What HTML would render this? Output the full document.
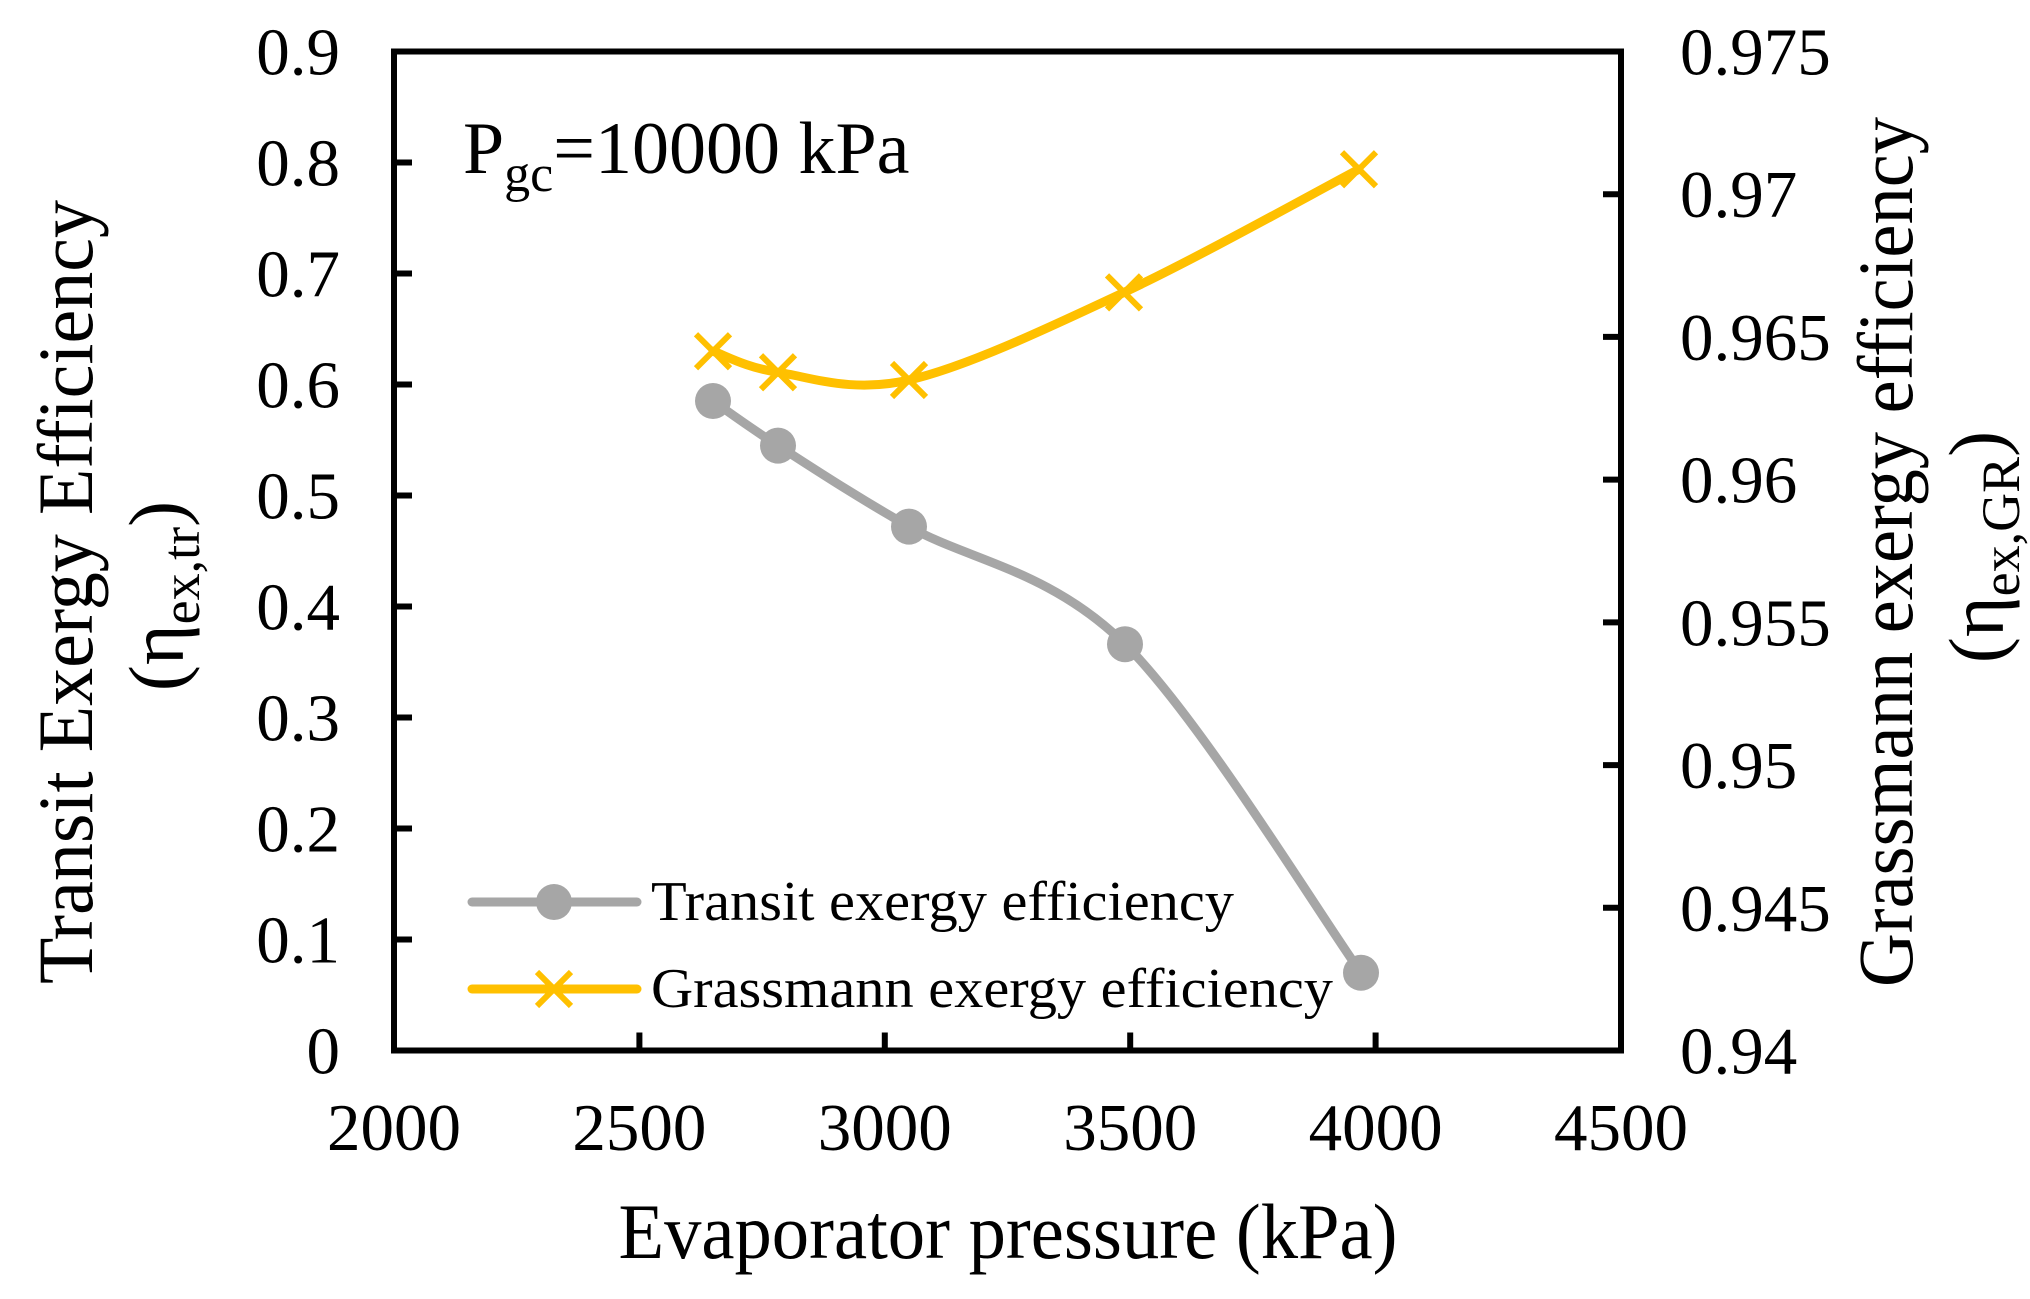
<!DOCTYPE html>
<html><head><meta charset="utf-8"><style>
html,body{margin:0;padding:0;background:#fff;}
svg{display:block;}
text{font-family:"Liberation Serif",serif;fill:#000;}
</style></head><body>
<svg id="s" width="2030" height="1299" viewBox="0 0 2030 1299" xmlns="http://www.w3.org/2000/svg">
<rect width="2030" height="1299" fill="#fff"/>
<g id="ticks" stroke="#000" stroke-width="6"></g>
<rect x="394" y="51.5" width="1227" height="999" fill="none" stroke="#000" stroke-width="6"/>
<g id="labels" font-size="67"></g>
<path id="gray" fill="none" stroke="#a6a6a6" stroke-width="9" stroke-linecap="round"/>
<path id="yel" fill="none" stroke="#ffc000" stroke-width="9" stroke-linecap="round"/>
<g id="marks"></g>
<text x="463" y="173" font-size="74">P<tspan font-size="52" dy="18">gc</tspan><tspan dy="-18">=10000 kPa</tspan></text>
<line x1="472" y1="902" x2="637" y2="902" stroke="#a6a6a6" stroke-width="9" stroke-linecap="round"/>
<circle cx="554" cy="902" r="18" fill="#a6a6a6"/>
<text x="651" y="920" font-size="56" textLength="583" lengthAdjust="spacingAndGlyphs">Transit exergy efficiency</text>
<line x1="472" y1="989" x2="637" y2="989" stroke="#ffc000" stroke-width="9" stroke-linecap="round"/>
<path d="M537 972 L571 1006 M571 972 L537 1006" stroke="#ffc000" stroke-width="6"/>
<text x="651" y="1007" font-size="56" textLength="682" lengthAdjust="spacingAndGlyphs">Grassmann exergy efficiency</text>
<text x="1008" y="1258" font-size="78" text-anchor="middle" textLength="779" lengthAdjust="spacingAndGlyphs">Evaporator pressure (kPa)</text>
<text transform="translate(92,592) rotate(-90)" font-size="78" text-anchor="middle" textLength="784" lengthAdjust="spacingAndGlyphs">Transit  Exergy Efficiency</text>
<text transform="translate(183,596) rotate(-90)" font-size="78" text-anchor="middle">(η<tspan font-size="54" dy="16">ex,tr</tspan><tspan dy="-16">)</tspan></text>
<text transform="translate(1912,552) rotate(-90)" font-size="78" text-anchor="middle" textLength="870" lengthAdjust="spacingAndGlyphs">Grassmann exergy efficiency</text>
<text transform="translate(2003,547) rotate(-90)" font-size="78" text-anchor="middle">(η<tspan font-size="54" dy="16">ex,GR</tspan><tspan dy="-16">)</tspan></text>
</svg>
<script>
var NS="http://www.w3.org/2000/svg";
function el(p,t,a,txt){var e=document.createElementNS(NS,t);for(var k in a)e.setAttribute(k,a[k]);if(txt!=null)e.textContent=txt;p.appendChild(e);return e;}
var T=document.getElementById('ticks'),L=document.getElementById('labels');
var X0=394,X1=1621,Y0=1050.5,Y1=51.5;
for(var i=0;i<=9;i++){var y=Y0-i*111;if(i>0&&i<9)el(T,'line',{x1:X0,y1:y,x2:X0+18,y2:y});
 el(L,'text',{x:340,y:y+23,'text-anchor':'end'},i==0?'0':(i/10).toFixed(1));}
for(var i=0;i<=7;i++){var y=Y0-i*(999/7);if(i>0&&i<7)el(T,'line',{x1:X1-18,y1:y,x2:X1,y2:y});
 var v=(0.94+i*0.005);var s=v.toFixed(3).replace(/0+$/,'');el(L,'text',{x:1680,y:y+23},s);}
for(var i=0;i<=5;i++){var x=X0+i*245.4;if(i>0&&i<5)el(T,'line',{x1:x,y1:Y0,x2:x,y2:Y0-18});
 el(L,'text',{x:x,y:1150,'text-anchor':'middle'},String(2000+i*500));}
var gx=[713,778,909,1125,1361],gy=[401,445.6,526.6,644.2,972.8];
var yx=[713,778,909,1124,1359],yy=[351.2,372.3,380,292.4,169.2];
function cr(xs,ys){var d="M"+xs[0]+" "+ys[0];var n=xs.length;
 for(var i=0;i<n-1;i++){var x0=xs[Math.max(i-1,0)],y0=ys[Math.max(i-1,0)],x1=xs[i],y1=ys[i],x2=xs[i+1],y2=ys[i+1],x3=xs[Math.min(i+2,n-1)],y3=ys[Math.min(i+2,n-1)];
 d+=" C"+(x1+(x2-x0)/6)+" "+(y1+(y2-y0)/6)+" "+(x2-(x3-x1)/6)+" "+(y2-(y3-y1)/6)+" "+x2+" "+y2;}return d;}
document.getElementById('gray').setAttribute('d',cr(gx,gy));
document.getElementById('yel').setAttribute('d',cr(yx,yy));
var M=document.getElementById('marks');
for(var i=0;i<5;i++){el(M,'circle',{cx:gx[i],cy:gy[i],r:18,fill:'#a6a6a6'});
 var x=yx[i],y=yy[i];el(M,'path',{d:"M"+(x-17)+" "+(y-17)+"L"+(x+17)+" "+(y+17)+"M"+(x+17)+" "+(y-17)+"L"+(x-17)+" "+(y+17),stroke:'#ffc000','stroke-width':6});}
</script>
</body></html>
